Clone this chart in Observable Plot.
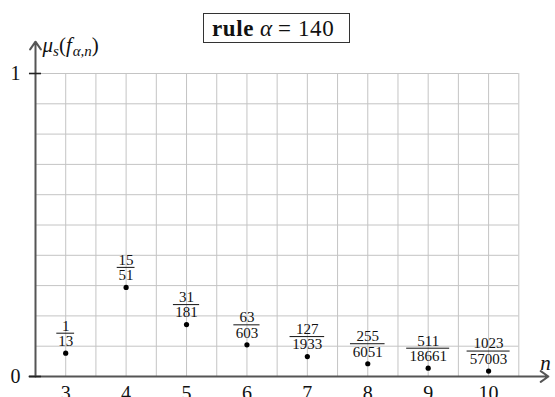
<!DOCTYPE html>
<html>
<head>
<meta charset="utf-8">
<script src="https://cdn.jsdelivr.net/npm/d3@7"></script>
<script src="https://cdn.jsdelivr.net/npm/@observablehq/plot@0.6"></script>
<style>
  body { margin: 0; background: #fff; }
  #chart { position: relative; width: 555px; height: 397px; overflow: hidden; }
  #title {
    position: absolute; left: 203px; top: 13px; width: 145px; height: 28px;
    border: 1.3px solid #333; box-sizing: content-box;
    font-family: "Liberation Serif", serif; font-size: 23px; line-height: 30px;
    color: #111; white-space: nowrap;
  }
  #title b { margin-left: 8px; letter-spacing: 0.6px; }
  #title i { margin-left: 6px; margin-right: 6px; }
  #title span { letter-spacing: 0.6px; }
</style>
</head>
<body>
<div id="chart">
  <div id="title"><b>rule</b><i>α</i><span>= 140</span></div>
</div>
<script>
// Measure values μ_s(f_{α,n}) for rule 140, one fraction per n
const ns = [3, 4, 5, 6, 7, 8, 9, 10];
const numerators = [1, 15, 31, 63, 127, 255, 511, 1023];
const denominators = [13, 51, 181, 603, 1933, 6051, 18661, 57003];

// Axis tick labels and grid positions
const xTickLabels = [3, 4, 5, 6, 7, 8, 9, 10];
const yTickLabels = [0, 1];
const xGrid = [2.5, 3, 3.5, 4, 4.5, 5, 5.5, 6, 6.5, 7, 7.5, 8, 8.5, 9, 9.5, 10, 10.5];
const yGrid = [0, 0.1, 0.2, 0.3, 0.4, 0.5, 0.6, 0.7, 0.8, 0.9, 1];

const points = ns.map((n, i) => ({
  n, num: numerators[i], den: denominators[i], v: numerators[i] / denominators[i]
}));

const W = 555, H = 397, mL = 35, mR = 36.7, mT = 73, mB = 21;
const xDomain = [2.5, 10.5], yDomain = [0, 1];
const pxPerN = (W - mL - mR) / (xDomain[1] - xDomain[0]);
// half width of a fraction bar, in x units, from the longer of the two numbers
const barHalf = d => ((Math.max(String(d.num).length, String(d.den).length) * 8.4 + 1) / 2) / pxPerN;

const axisColor = "#555";
const gridColor = "#c4c4c4";
const serif = "Liberation Serif";

const chart = Plot.plot({
  width: W, height: H,
  marginLeft: mL, marginRight: mR, marginTop: mT, marginBottom: mB,
  x: { domain: xDomain, axis: null },
  y: { domain: yDomain, axis: null },
  style: { fontFamily: serif, background: "transparent", color: "#111", overflow: "visible" },
  marks: [
    Plot.ruleX(xGrid, { stroke: gridColor, strokeWidth: 1 }),
    Plot.ruleY(yGrid, { stroke: gridColor, strokeWidth: 1 }),
    // axes with arrowheads
    Plot.arrow([0], { x1: 2.4, y1: 0, x2: 10.99, y2: 0, stroke: axisColor, strokeWidth: 2, headLength: 7, headAngle: 70 }),
    Plot.arrow([0], { x1: 2.5, y1: 0, x2: 2.5, y2: 1.105, stroke: axisColor, strokeWidth: 2, headLength: 7, headAngle: 70 }),
    Plot.ruleY(yTickLabels, { y: d => d, x1: 2.4, x2: 2.6, stroke: "#222", strokeWidth: 1.6 }),
    Plot.text(yTickLabels, { x: 2.5, y: d => d, dx: -20, text: d => String(d), fontSize: 20, fill: "#111" }),
    Plot.text(xTickLabels, { x: d => d, y: 0, dy: 17, text: d => String(d), fontSize: 20, fill: "#111" }),
    Plot.text(["n"], { x: 10.94, y: 0, dy: -13, text: d => d, fontSize: 21, fontStyle: "italic", fill: "#111" }),
    Plot.text(["μs(fα,n)"], { x: 2.5, y: 1.105, dx: 7, dy: 4, text: d => d, textAnchor: "start", fontSize: 21, fill: "#111" }),
    // fractions and points
    Plot.ruleY(points, { y: "v", x1: d => d.n - barHalf(d), x2: d => d.n + barHalf(d), dy: -20, stroke: "#111", strokeWidth: 1 }),
    Plot.text(points, { x: "n", y: "v", text: d => String(d.num), dy: -27.5, fontSize: 15, fill: "#111" }),
    Plot.text(points, { x: "n", y: "v", text: d => String(d.den), dy: -12, fontSize: 15, fill: "#111" }),
    Plot.dot(points, { x: "n", y: "v", r: 2.6, fill: "#000", stroke: null })
  ]
});

// Typeset the y label with italic symbols and subscripts
d3.select(chart).selectAll("text").each(function () {
  if (this.textContent !== "μs(fα,n)") return;
  const t = d3.select(this);
  t.text(null);
  t.append("tspan").attr("font-style", "italic").text("μ");
  t.append("tspan").attr("font-style", "italic").attr("font-size", 15).attr("dy", 4).text("s");
  t.append("tspan").attr("dy", -4).text("(");
  t.append("tspan").attr("font-style", "italic").text("f");
  t.append("tspan").attr("font-style", "italic").attr("font-size", 15).attr("dy", 4).attr("dx", 1).text("α,n");
  t.append("tspan").attr("dy", -4).text(")");
});

chart.style.position = "absolute";
chart.style.left = "0";
chart.style.top = "0";
document.getElementById("chart").prepend(chart);
</script>
</body>
</html>
